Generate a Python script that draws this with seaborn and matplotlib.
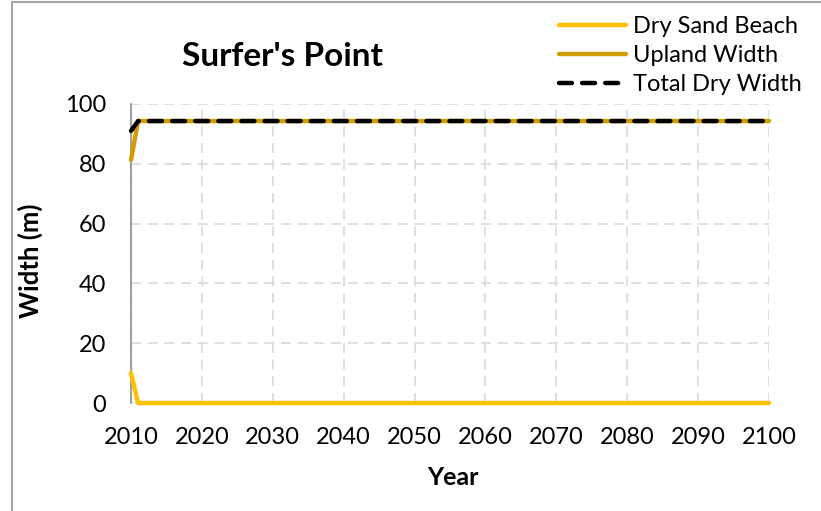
import matplotlib
matplotlib.use("Agg")
import matplotlib.pyplot as plt
import seaborn as sns
import pandas as pd
from matplotlib.lines import Line2D

years = [2010, 2011, 2020, 2030, 2040, 2050, 2060, 2070, 2080, 2090, 2100]
dry_sand = [10.0, 0.0, 0.0, 0.0, 0.0, 0.0, 0.0, 0.0, 0.0, 0.0, 0.0]
upland = [81.3, 94.3, 94.3, 94.3, 94.3, 94.3, 94.3, 94.3, 94.3, 94.3, 94.3]
total = [91.0, 94.3, 94.3, 94.3, 94.3, 94.3, 94.3, 94.3, 94.3, 94.3, 94.3]
series_names = ["Dry Sand Beach", "Upland Width", "Total Dry Width"]
x_ticks = [2010, 2020, 2030, 2040, 2050, 2060, 2070, 2080, 2090, 2100]
y_ticks = [0, 20, 40, 60, 80, 100]

sns.set_theme(style="white")
plt.rcParams['font.family'] = ['Lato', 'DejaVu Sans']
plt.rcParams['text.color'] = 'black'
plt.rcParams['axes.labelcolor'] = 'black'

fig = plt.figure(figsize=(8.21, 5.11), dpi=100)
ax = fig.add_axes([131/821, 1-403/511, (769-131)/821, (403-104)/511])

df = pd.DataFrame({"Year": years, series_names[0]: dry_sand,
                   series_names[1]: upland, series_names[2]: total})

colors = ["#FFC000", "#D09E00", "#000000"]
LW = 3.2
DASH = (0, (2.9, 2.3))
sns.lineplot(data=df, x="Year", y=series_names[0], ax=ax, color=colors[0], lw=LW, zorder=3,
             clip_on=False)
sns.lineplot(data=df, x="Year", y=series_names[1], ax=ax, color=colors[1], lw=LW, zorder=3,
             clip_on=False)
sns.lineplot(data=df, x="Year", y=series_names[2], ax=ax, color=colors[2], lw=LW, zorder=4,
             linestyle=DASH, dash_capstyle="round", clip_on=False)

ax.set_xlim(2010, 2100)
ax.set_ylim(0, 100)
ax.set_xticks(x_ticks)
ax.set_yticks(y_ticks)
ax.tick_params(axis="both", labelsize=17, length=0, colors="black")
ax.tick_params(axis="y", pad=18)
ax.tick_params(axis="x", pad=17)
ax.grid(True, color="#d9d9d9", linestyle=(0, (6, 4)), lw=1.2)
for s in ["top", "right", "bottom"]:
    ax.spines[s].set_visible(False)
ax.spines["left"].set_color("#8c8c8c")
ax.spines["left"].set_linewidth(1.2)

ax.set_xlabel("Year", fontsize=18, fontweight="bold")
ax.set_ylabel("Width (m)", fontsize=18.5, fontweight="bold")
ax.xaxis.set_label_coords(0.5 + (453 - 450) / 638, (403 - 466) / 299)
ax.yaxis.set_label_coords((43 - 131) / 638, (403 - 261) / 299)

fig.text(282/821, 1-57/511, "Surfer's Point", ha="center", va="center",
         fontsize=24, fontweight="bold")

handles = [Line2D([], [], color=colors[0], lw=LW, solid_capstyle="round"),
           Line2D([], [], color=colors[1], lw=LW, solid_capstyle="round"),
           Line2D([], [], color=colors[2], lw=LW, linestyle=DASH, dash_capstyle="round")]
fig.legend(handles, series_names, loc="upper right", bbox_to_anchor=(802/821, 1-16/511),
           frameon=False, fontsize=17, handlelength=2.85, handletextpad=0.3,
           labelspacing=0.34, borderpad=0, borderaxespad=0)

# chart border (top and left visible)
fig.add_artist(Line2D([12/821, 1.0], [1-2/511, 1-2/511], transform=fig.transFigure,
                      color="#a6a6a6", lw=1.5))
fig.add_artist(Line2D([12/821, 12/821], [0.0, 1-2/511], transform=fig.transFigure,
                      color="#a6a6a6", lw=1.5))

fig.savefig("out.png", dpi=100, facecolor="white")
